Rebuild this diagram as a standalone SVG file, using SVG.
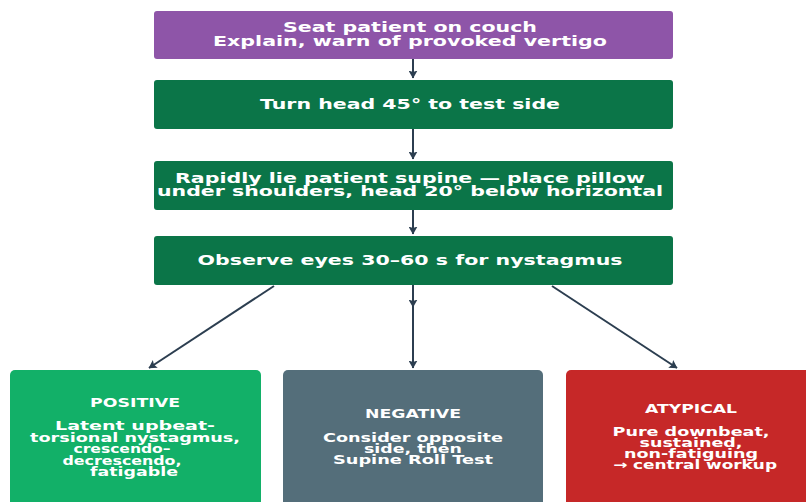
<svg xmlns="http://www.w3.org/2000/svg" width="806" height="502" viewBox="0 0 806 502">
<style>
text{font-family:"DejaVu Sans","Liberation Sans",sans-serif;font-weight:bold;fill:#ffffff;text-anchor:middle}
.t{font-size:14px}
.s{font-size:12px}
.e{stroke:#2C3E50;stroke-width:2;fill:none}
</style>
<defs>
<marker id="ah" viewBox="0 0 8 9" refX="7.5" refY="4.5" markerWidth="8" markerHeight="9" orient="auto" markerUnits="userSpaceOnUse">
<path d="M0,0 L8,4.5 L0,9 L1.5,4.5 Z" fill="#2C3E50"/>
</marker>
</defs>
<rect width="806" height="502" fill="#ffffff"/>
<g id="connectors">
<path class="e" d="M413,59 L413,78" marker-end="url(#ah)"/>
<path class="e" d="M413,129 L413,159" marker-end="url(#ah)"/>
<path class="e" d="M413,210 L413,234" marker-end="url(#ah)"/>
<path class="e" d="M413,285 L413,307 L413,368" marker-mid="url(#ah)" marker-end="url(#ah)"/>
<path class="e" d="M274,286 L149,368" marker-end="url(#ah)"/>
<path class="e" d="M552,286 L677,368" marker-end="url(#ah)"/>
</g>
<g id="n1">
<rect x="154" y="11" width="519" height="48" rx="3" fill="#8E55A8"/>
<text class="t" x="410" y="32" textLength="254" lengthAdjust="spacingAndGlyphs">Seat patient on couch</text>
<text class="t" x="410" y="46" textLength="394" lengthAdjust="spacingAndGlyphs">Explain, warn of provoked vertigo</text>
</g>
<g id="n2">
<rect x="154" y="80" width="519" height="49" rx="3" fill="#0B7548"/>
<text class="t" x="410" y="109" textLength="300" lengthAdjust="spacingAndGlyphs">Turn head 45° to test side</text>
</g>
<g id="n3">
<rect x="154" y="161" width="519" height="49" rx="3" fill="#0B7548"/>
<text class="t" x="410" y="183" textLength="470" lengthAdjust="spacingAndGlyphs">Rapidly lie patient supine — place pillow</text>
<text class="t" x="410" y="196" textLength="506" lengthAdjust="spacingAndGlyphs">under shoulders, head 20° below horizontal</text>
</g>
<g id="n4">
<rect x="154" y="236" width="519" height="49" rx="3" fill="#0B7548"/>
<text class="t" x="410" y="265" textLength="425" lengthAdjust="spacingAndGlyphs">Observe eyes 30–60 s for nystagmus</text>
</g>
<g id="positive">
<rect x="10" y="370" width="251" height="140" rx="5" fill="#12B068"/>
<text class="s" x="135" y="407" textLength="90" lengthAdjust="spacingAndGlyphs">POSITIVE</text>
<text class="s" x="135" y="430" textLength="160" lengthAdjust="spacingAndGlyphs">Latent upbeat-</text>
<text class="s" x="135" y="441.5" textLength="210" lengthAdjust="spacingAndGlyphs">torsional nystagmus,</text>
<text class="s" x="122" y="453" textLength="97" lengthAdjust="spacingAndGlyphs">crescendo–</text>
<text class="s" x="122" y="464.5" textLength="119" lengthAdjust="spacingAndGlyphs">decrescendo,</text>
<text class="s" x="134" y="476" textLength="88" lengthAdjust="spacingAndGlyphs">fatigable</text>
</g>
<g id="negative">
<rect x="283" y="370" width="260" height="140" rx="5" fill="#546E7A"/>
<text class="s" x="413" y="418" textLength="96" lengthAdjust="spacingAndGlyphs">NEGATIVE</text>
<text class="s" x="413" y="441.5" textLength="180" lengthAdjust="spacingAndGlyphs">Consider opposite</text>
<text class="s" x="413" y="452.5" textLength="98" lengthAdjust="spacingAndGlyphs">side, then</text>
<text class="s" x="413" y="464" textLength="160" lengthAdjust="spacingAndGlyphs">Supine Roll Test</text>
</g>
<g id="atypical">
<rect x="566" y="370" width="260" height="140" rx="5" fill="#C62828"/>
<text class="s" x="691" y="413" textLength="92" lengthAdjust="spacingAndGlyphs">ATYPICAL</text>
<text class="s" x="691" y="436" textLength="157" lengthAdjust="spacingAndGlyphs">Pure downbeat,</text>
<text class="s" x="691" y="447" textLength="103" lengthAdjust="spacingAndGlyphs">sustained,</text>
<text class="s" x="691" y="458" textLength="134" lengthAdjust="spacingAndGlyphs">non-fatiguing</text>
<text class="s" x="695" y="469" textLength="164" lengthAdjust="spacingAndGlyphs">→ central workup</text>
</g>
</svg>
